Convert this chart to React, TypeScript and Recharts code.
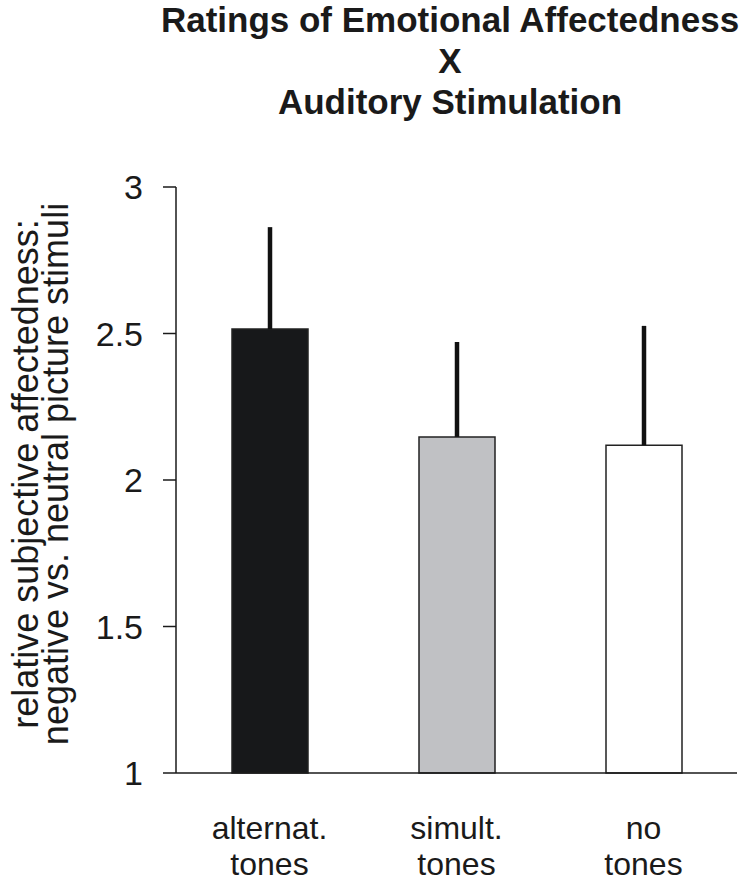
import React from 'react'
import { BarChart, Bar, XAxis, YAxis, ErrorBar, Cell } from 'recharts'

const CATEGORIES = ['alternat.|tones', 'simult.|tones', 'no|tones']
const MEANS = [2.515, 2.147, 2.119]
const UPPER_ERR = [0.348, 0.324, 0.407]
const FILLS = ['#17181a', '#c0c1c4', '#ffffff']
const Y_TICKS = [1, 1.5, 2, 2.5, 3]
const TITLE = ['Ratings of Emotional Affectedness', 'X', 'Auditory Stimulation']
const Y_LABEL = ['relative subjective affectedness:', 'negative vs. neutral picture stimuli']

const FONT = '"Liberation Sans", Arial, Helvetica, sans-serif'
const INK = '#1a1a1a'

const data = CATEGORIES.map((name, i) => ({
  name,
  value: MEANS[i],
  err: [0, UPPER_ERR[i]]
}))

const CategoryTick = (props: any) => {
  const { x, y, payload } = props
  const lines = String(payload.value).split('|')
  return (
    <text x={x} y={y} textAnchor="middle" fontFamily={FONT} fontSize={32} fill={INK}>
      {lines.map((l, i) => (
        <tspan key={i} x={x} dy={i === 0 ? 58 : 36}>
          {l}
        </tspan>
      ))}
    </text>
  )
}

const YLabel = (props: any) => {
  const { viewBox } = props
  const cy = viewBox.y + viewBox.height / 2 - 6
  return (
    <g>
      {Y_LABEL.map((l, i) => {
        const bx = 38 + i * 30
        return (
          <text
            key={i}
            x={bx}
            y={cy}
            transform={`rotate(-90, ${bx}, ${cy})`}
            textAnchor="middle"
            fontFamily={FONT}
            fontSize={36}
            fill={INK}
          >
            {l}
          </text>
        )
      })}
    </g>
  )
}

export default function App() {
  return (
    <div style={{ position: 'absolute', left: 0, top: 0, width: 755, height: 882, background: '#fff' }}>
      <div
        style={{
          position: 'absolute',
          left: 150,
          top: -1,
          width: 600,
          textAlign: 'center',
          fontFamily: FONT,
          fontWeight: 'bold',
          fontSize: 35,
          lineHeight: '41px',
          color: INK
        }}
      >
        {TITLE.map((t) => (
          <div key={t}>{t}</div>
        ))}
      </div>
      <BarChart
        width={755}
        height={882}
        data={data}
        margin={{ top: 187, right: 18, left: 0, bottom: 0 }}
        barSize={76}
      >
        <XAxis
          dataKey="name"
          axisLine={{ stroke: INK, strokeWidth: 1.5 }}
          tickLine={false}
          tick={<CategoryTick />}
          interval={0}
          height={109}
        />
        <YAxis
          domain={[1, 3]}
          ticks={Y_TICKS}
          width={176}
          tickSize={13}
          tickMargin={20}
          axisLine={{ stroke: INK, strokeWidth: 1.5 }}
          tickLine={{ stroke: INK, strokeWidth: 1.5 }}
          tick={{ fontFamily: FONT, fontSize: 34, fill: INK }}
          label={<YLabel />}
        />
        <Bar dataKey="value" stroke="#222" strokeWidth={1.5} isAnimationActive={false}>
          {data.map((d, i) => (
            <Cell key={d.name} fill={FILLS[i]} />
          ))}
          <ErrorBar dataKey="err" direction="y" width={0} stroke="#111" strokeWidth={4.5} />
        </Bar>
      </BarChart>
    </div>
  )
}
